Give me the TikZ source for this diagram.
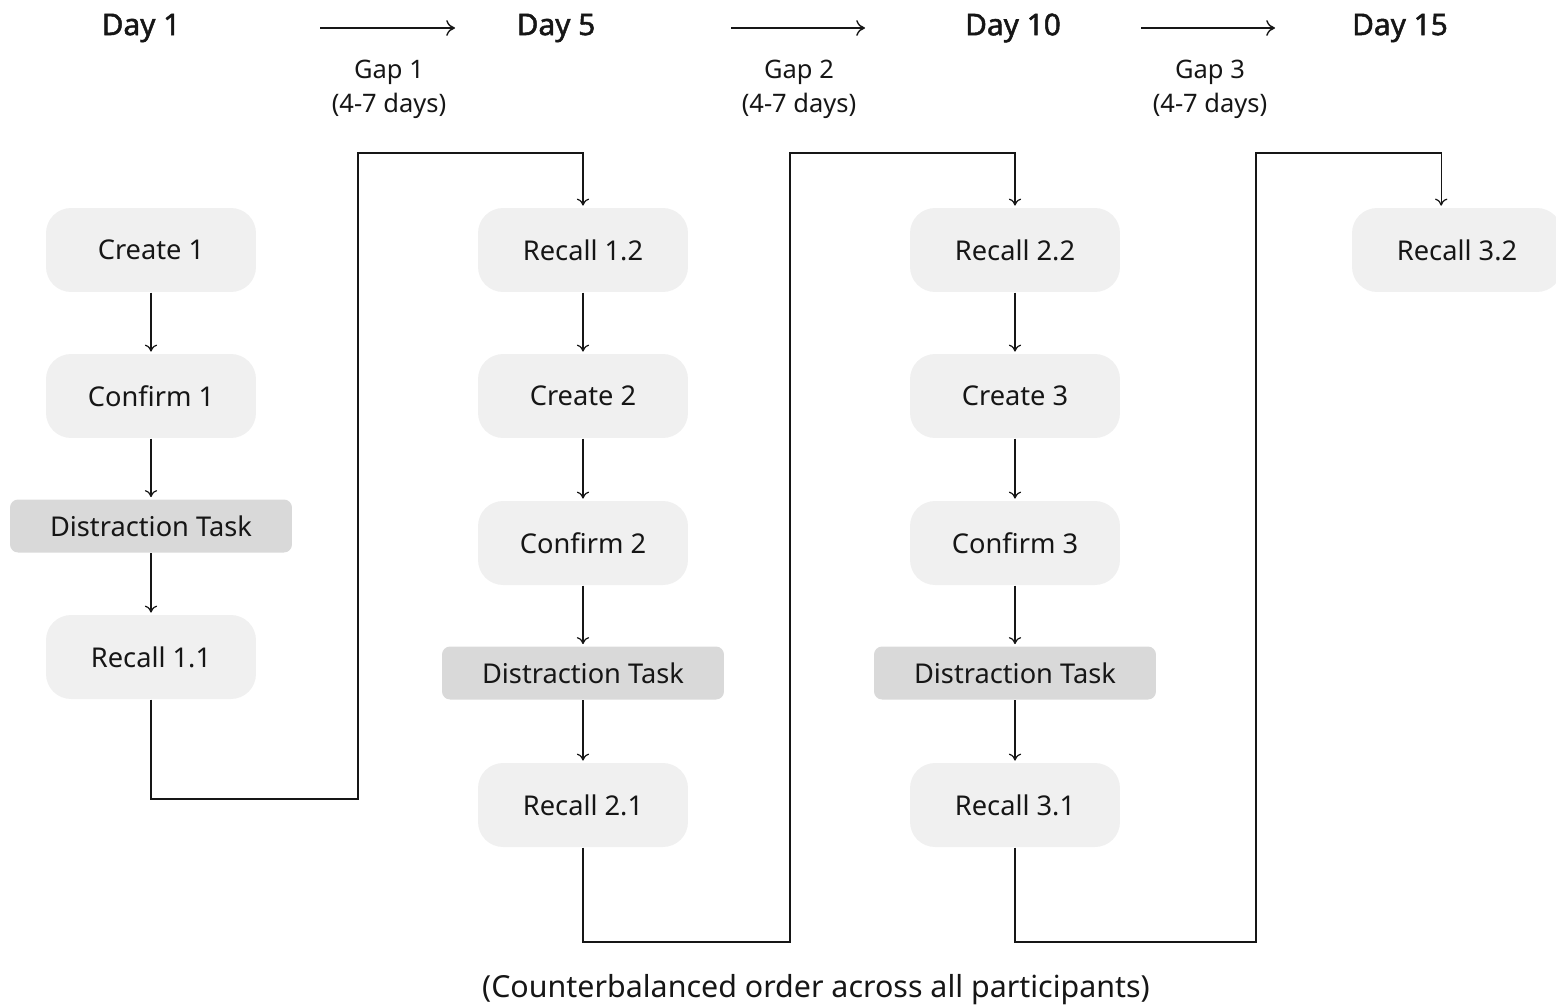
\documentclass[tikz,border=0pt]{standalone}
\usepackage{fontspec}
\setmainfont{Noto Sans}
\newfontfamily\headfont{Noto Sans}[FakeBold=1.6]
\usetikzlibrary{arrows,arrows.meta,positioning}

\definecolor{boxgray}{HTML}{F0F0F0}
\definecolor{taskgray}{HTML}{D9D9D9}
\definecolor{ink}{HTML}{161616}

\tikzset{
  stepbox/.style={rectangle, rounded corners=0.5cm, fill=boxgray, text=ink,
    minimum width=4.2cm, minimum height=1.68cm, inner sep=0pt,
    font=\fontsize{15.5}{18}\selectfont},
  taskbox/.style={rectangle, rounded corners=0.16cm, fill=taskgray, text=ink,
    minimum width=5.64cm, minimum height=1.06cm, inner sep=0pt,
    font=\fontsize{15.5}{18}\selectfont},
  dayhead/.style={text=ink, font=\headfont\fontsize{17}{20}\selectfont},
  gaplabel/.style={text=ink, align=center, font=\fontsize{14.5}{19.5}\selectfont},
  flow/.style={->, draw=ink, shorten >=1pt},
  gaparrow/.style={-{To[length=5pt,width=9pt]}, draw=ink, line width=0.8pt}
}

\begin{document}
\begin{tikzpicture}[x=0.02cm, y=-0.02cm, >={To[length=4pt,width=7pt]}, line width=0.7pt]
    \useasboundingbox (0,0) rectangle (1556,1008);

    % days and gaps
    \node[dayhead] (day1) at (141,28) {Day 1};
    \node[dayhead] (day5) at (556,28) {Day 5};
    \node[dayhead] (day10) at (1013,28) {Day 10};
    \node[dayhead] (day15) at (1400,28) {Day 15};
    \node[gaplabel] (gap1) at (389,89) {Gap 1\\(4-7 days)};
    \node[gaplabel] (gap2) at (799,89) {Gap 2\\(4-7 days)};
    \node[gaplabel] (gap3) at (1210,89) {Gap 3\\(4-7 days)};
    \coordinate (ga1) at (320,28);
    \coordinate (gb1) at (455,28);
    \coordinate (ga2) at (731,28);
    \coordinate (gb2) at (865,28);
    \coordinate (ga3) at (1141,28);
    \coordinate (gb3) at (1275,28);
    \draw[gaparrow] (ga1) -- (gb1);
    \draw[gaparrow] (ga2) -- (gb2);
    \draw[gaparrow] (ga3) -- (gb3);

    % day 1
    \node[stepbox] (create1) at (151,250) {Create 1};
    \node[stepbox] (confirm1) at (151,396) {Confirm 1};
    \node[taskbox] (task1) at (151,526) {Distraction Task};
    \node[stepbox] (recall11) at (151,657) {Recall 1.1};
    \draw[flow] (create1) -- (confirm1);
    \draw[flow] (confirm1) -- (task1);
    \draw[flow] (task1) -- (recall11);

    % day 5
    \node[stepbox] (recall12) at (583,250) {Recall 1.2};
    \node[stepbox] (create2) at (583,396) {Create 2};
    \node[stepbox] (confirm2) at (583,543) {Confirm 2};
    \node[taskbox] (task2) at (583,673) {Distraction Task};
    \node[stepbox] (recall21) at (583,805) {Recall 2.1};
    \draw[flow] (recall12) -- (create2);
    \draw[flow] (create2) -- (confirm2);
    \draw[flow] (confirm2) -- (task2);
    \draw[flow] (task2) -- (recall21);

    % day 10
    \node[stepbox] (recall22) at (1015,250) {Recall 2.2};
    \node[stepbox] (create3) at (1015,396) {Create 3};
    \node[stepbox] (confirm3) at (1015,543) {Confirm 3};
    \node[taskbox] (task3) at (1015,673) {Distraction Task};
    \node[stepbox] (recall31) at (1015,805) {Recall 3.1};
    \draw[flow] (recall22) -- (create3);
    \draw[flow] (create3) -- (confirm3);
    \draw[flow] (confirm3) -- (task3);
    \draw[flow] (task3) -- (recall31);

    % day 15
    \node[stepbox] (recall32) at (1457,250) {Recall 3.2};

    % links between days
    \coordinate (low1) at (358,799);
    \coordinate (high1) at (358,153);
    \coordinate (low2) at (790,942);
    \coordinate (high2) at (790,153);
    \coordinate (low3) at (1256,942);
    \coordinate (high3) at (1256,153);
    \draw[flow] (recall11.south) |- (low1) -- (high1) -| (recall12.north);
    \draw[flow] (recall21.south) |- (low2) -- (high2) -| (recall22.north);
    \draw[flow] (recall31.south) |- (low3) -- (high3) -| ([xshift=-9pt]recall32.north);

    \node[text=ink, font=\fontsize{17.3}{20}\selectfont] (note) at (816,990)
        {(Counterbalanced order across all participants)};
\end{tikzpicture}
\end{document}
